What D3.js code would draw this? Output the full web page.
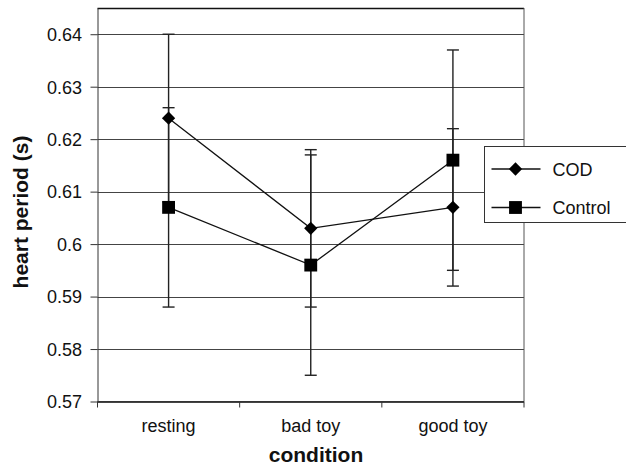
<!DOCTYPE html>
<html>
<head>
<meta charset="utf-8">
<script src="https://cdn.jsdelivr.net/npm/d3@7"></script>
<style>
  body { margin: 0; background: #fff; }
  text { font-family: "Liberation Sans", Arial, sans-serif; fill: #111; }
</style>
</head>
<body>
<div id="chart"></div>
<script>
var conditions = ["resting", "bad toy", "good toy"];
var codValues = [0.624, 0.603, 0.607];
var codErrors = [0.016, 0.015, 0.015];
var controlValues = [0.607, 0.596, 0.616];
var controlErrors = [0.019, 0.021, 0.021];
var yTicks = [0.57, 0.58, 0.59, 0.6, 0.61, 0.62, 0.63, 0.64];

var margin = { top: 8, right: 102, bottom: 64.5, left: 97.5 };
var width = 626, height = 466;
var largura = width - margin.left - margin.right;
var altura = height - margin.top - margin.bottom;

var svg = d3.select("#chart").append("svg")
  .attr("width", width)
  .attr("height", height);

var g = svg.append("g")
  .attr("transform", "translate(" + margin.left + "," + margin.top + ")");

var xScale = d3.scaleBand().domain(conditions).range([0, largura]).padding(0);
var yScale = d3.scaleLinear().domain([0.57, 0.645]).range([altura, 0]);

// gridlines
g.selectAll("line.grid").data(yTicks).enter().append("line")
  .attr("class", "grid")
  .attr("x1", 0).attr("x2", largura)
  .attr("y1", function(d) { return Math.round(yScale(d)) + 0.5; })
  .attr("y2", function(d) { return Math.round(yScale(d)) + 0.5; })
  .attr("stroke", "#444").attr("stroke-width", 1);

// frame
g.append("line").attr("x1", 0).attr("x2", largura).attr("y1", 0.5).attr("y2", 0.5)
  .attr("stroke", "#111").attr("stroke-width", 1.5);
g.append("line").attr("x1", largura).attr("x2", largura).attr("y1", 0).attr("y2", altura)
  .attr("stroke", "#555").attr("stroke-width", 1);

// y axis
var yAxis = d3.axisLeft(yScale).tickValues(yTicks).tickSize(7).tickSizeOuter(0)
  .tickFormat(function(d) { return String(+d.toFixed(2)); });
var yAxisG = g.append("g").call(yAxis);
yAxisG.select(".domain").attr("stroke", "#333");
yAxisG.selectAll(".tick line").attr("stroke", "#333");
yAxisG.selectAll(".tick text").attr("font-size", 18).attr("x", -15.5).attr("dy", "0.35em")
  .attr("font-family", "Liberation Sans, Arial, sans-serif").attr("fill", "#111");

// x axis
var xAxisG = g.append("g").attr("transform", "translate(0," + altura + ")");
xAxisG.append("line").attr("x1", 0).attr("x2", largura).attr("y1", 0).attr("y2", 0)
  .attr("stroke", "#333");
var bounds = conditions.map(function(c) { return xScale(c); }).concat([largura]);
xAxisG.selectAll("line.tk").data(bounds).enter().append("line")
  .attr("class", "tk")
  .attr("x1", function(d) { return d; }).attr("x2", function(d) { return d; })
  .attr("y1", 0).attr("y2", 6).attr("stroke", "#333");
xAxisG.selectAll("text.lbl").data(conditions).enter().append("text")
  .attr("class", "lbl")
  .attr("x", function(d) { return xScale(d) + xScale.bandwidth() / 2; })
  .attr("y", 30)
  .attr("text-anchor", "middle")
  .attr("font-size", 18)
  .text(function(d) { return d; });

// axis titles
svg.append("text")
  .attr("x", 316).attr("y", 462)
  .attr("text-anchor", "middle")
  .attr("font-size", 21).attr("font-weight", "bold")
  .text("condition");
svg.append("text")
  .attr("transform", "translate(28,212) rotate(-90)")
  .attr("text-anchor", "middle")
  .attr("font-size", 21).attr("font-weight", "bold")
  .text("heart period (s)");

var diamond = {
  draw: function(ctx, size) {
    var r = Math.sqrt(size / 2);
    ctx.moveTo(0, -r); ctx.lineTo(r, 0); ctx.lineTo(0, r); ctx.lineTo(-r, 0); ctx.closePath();
  }
};

var series = [
  { name: "COD", values: codValues, errors: codErrors, shape: diamond, size: 88 },
  { name: "Control", values: controlValues, errors: controlErrors, shape: d3.symbolSquare, size: 165 }
];

function cx(i) { return xScale(conditions[i]) + xScale.bandwidth() / 2; }

var line = d3.line()
  .x(function(d, i) { return cx(i); })
  .y(function(d) { return yScale(d); });

series.forEach(function(s) {
  // error bars
  s.values.forEach(function(v, i) {
    var x = cx(i);
    var hi = yScale(v + s.errors[i]), lo = yScale(v - s.errors[i]);
    g.append("line").attr("x1", x).attr("x2", x).attr("y1", hi).attr("y2", lo)
      .attr("stroke", "#222").attr("stroke-width", 1.4);
    [hi, lo].forEach(function(yy) {
      g.append("line").attr("x1", x - 6).attr("x2", x + 6).attr("y1", yy).attr("y2", yy)
        .attr("stroke", "#222").attr("stroke-width", 1.4);
    });
  });
});

series.forEach(function(s) {
  g.append("path").datum(s.values)
    .attr("d", line)
    .attr("fill", "none").attr("stroke", "#111").attr("stroke-width", 1.3);
  g.selectAll(null).data(s.values).enter().append("path")
    .attr("transform", function(d, i) { return "translate(" + cx(i) + "," + yScale(d) + ")"; })
    .attr("d", d3.symbol().type(s.shape).size(s.size))
    .attr("fill", "#000");
});

// legend
var legend = svg.append("g").attr("transform", "translate(484.5,146.5)");
legend.append("rect").attr("x", 0).attr("y", 0).attr("width", 150).attr("height", 76)
  .attr("fill", "#fff").attr("stroke", "#333").attr("stroke-width", 1);
series.forEach(function(s, i) {
  var yy = 22.5 + i * 38.5;
  legend.append("line").attr("x1", 7).attr("x2", 56).attr("y1", yy).attr("y2", yy)
    .attr("stroke", "#111").attr("stroke-width", 1.3);
  legend.append("path").attr("transform", "translate(31," + yy + ")")
    .attr("d", d3.symbol().type(s.shape).size(s.size)).attr("fill", "#000");
  legend.append("text").attr("x", 68).attr("y", yy + 6.5)
    .attr("font-size", 18).text(s.name);
});
</script>
</body>
</html>
